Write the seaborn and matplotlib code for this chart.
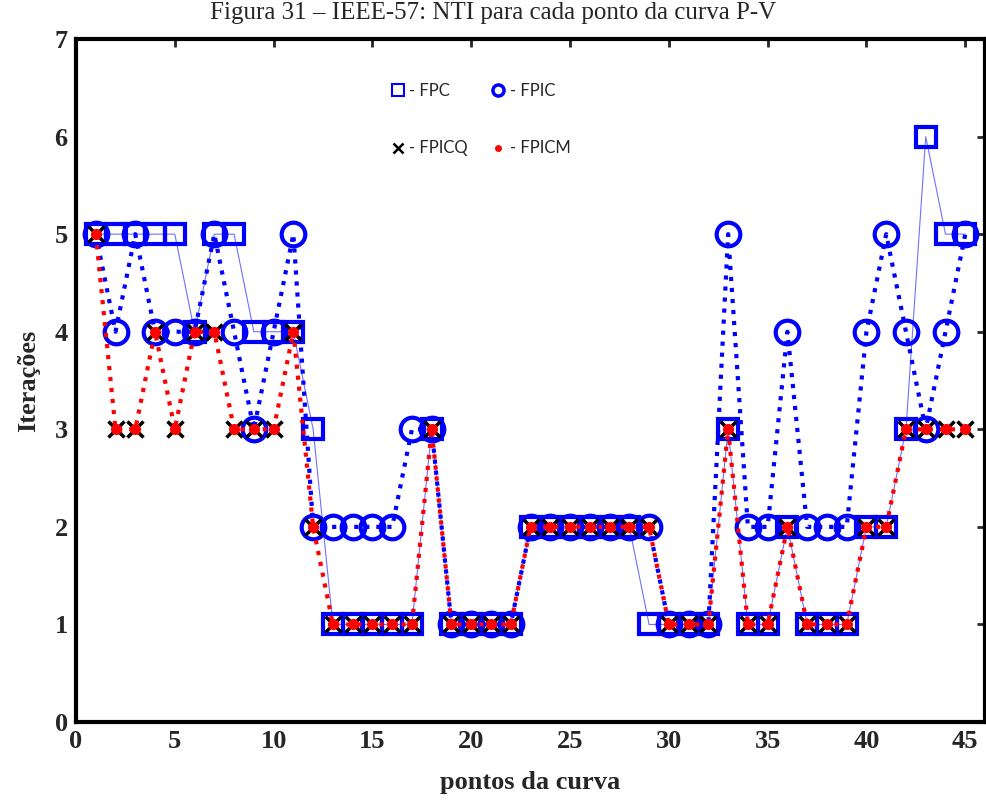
import numpy as np
import pandas as pd
import seaborn as sns
import matplotlib
matplotlib.use("Agg")
import matplotlib.pyplot as plt
from matplotlib.lines import Line2D

# pontos da curva P-V
pontos = list(range(1, 46))

fpc = [5, 5, 5, 5, 5, 4, 5, 5, 4, 4, 4, 3, 1, 1, 1, 1, 1, 3, 1, 1, 1, 1,
       2, 2, 2, 2, 2, 2, 1, 1, 1, 1, 3, 1, 1, 2, 1, 1, 1, 2, 2, 3, 6, 5, 5]
fpic = [5, 4, 5, 4, 4, 4, 5, 4, 3, 4, 5, 2, 2, 2, 2, 2, 3, 3, 1, 1, 1, 1,
        2, 2, 2, 2, 2, 2, 2, 1, 1, 1, 5, 2, 2, 4, 2, 2, 2, 4, 5, 4, 3, 4, 5]
fpicq = [5, 3, 3, 4, 3, 4, 4, 3, 3, 3, 4, 2, 1, 1, 1, 1, 1, 3, 1, 1, 1, 1,
         2, 2, 2, 2, 2, 2, 2, 1, 1, 1, 3, 1, 1, 2, 1, 1, 1, 2, 2, 3, 3, 3, 3]
fpicm = list(fpicq)

df = pd.DataFrame({"x": pontos, "FPC": fpc, "FPIC": fpic,
                   "FPICQ": fpicq, "FPICM": fpicm})

sns.set_style("white")
plt.rcParams['font.family'] = ['Liberation Serif', 'DejaVu Serif']

fig = plt.figure(figsize=(9.87, 8.01), dpi=100)
ax = fig.add_axes([0.077, 0.0986, 0.921, 0.8527])

blue = "#0000ff"
sns.lineplot(data=df, x="x", y="FPC", ax=ax, sort=False, estimator=None,
             color="#7070ff", linewidth=0.8, marker="s", markersize=15,
             markeredgewidth=3, markeredgecolor=blue, markerfacecolor="none")
sns.lineplot(data=df, x="x", y="FPIC", ax=ax, sort=False, estimator=None,
             color=blue, linewidth=3, linestyle=":", marker="o", markersize=17,
             markeredgewidth=3, markeredgecolor=blue, markerfacecolor="none")
sns.lineplot(data=df, x="x", y="FPICQ", ax=ax, sort=False, estimator=None,
             color="black", linewidth=0, marker="x", markersize=11,
             markeredgewidth=2.5, markeredgecolor="black")
sns.lineplot(data=df, x="x", y="FPICM", ax=ax, sort=False, estimator=None,
             color="red", linewidth=3, linestyle=":", marker="o", markersize=8,
             markeredgewidth=0, markerfacecolor="red")

ax.set_xlim(0, 46)
ax.set_ylim(0, 7)
ax.set_xticks([0, 5, 10, 15, 20, 25, 30, 35, 40, 45])
ax.set_yticks(range(0, 8))
ax.tick_params(direction="in", length=6, width=2, top=True, right=True,
               labelsize=19, pad=6)
for lab in ax.get_xticklabels() + ax.get_yticklabels():
    lab.set_fontweight("bold")
for sp in ax.spines.values():
    sp.set_linewidth(3)
    sp.set_color("black")

ax.set_xlabel("pontos da curva", fontsize=19, fontweight="bold", labelpad=13)
ax.set_ylabel("Iterações", fontsize=19, fontweight="bold", labelpad=10)

fig.text(0.5, 0.997, "Figura 31 – IEEE-57: NTI para cada ponto da curva P-V",
         ha="center", va="top", fontsize=18)

handles = [
    Line2D([], [], linestyle="none", marker="s", markersize=9,
           markeredgewidth=1.5, markeredgecolor=blue, markerfacecolor="none"),
    Line2D([], [], linestyle="none", marker="x", markersize=7,
           markeredgewidth=1.8, color="black"),
    Line2D([], [], linestyle="none", marker="o", markersize=8,
           markeredgewidth=2.5, markeredgecolor=blue, markerfacecolor="none"),
    Line2D([], [], linestyle="none", marker="o", markersize=5,
           markeredgewidth=0, markerfacecolor="red"),
]
labels = ["- FPC", "- FPICQ", "- FPIC", "- FPICM"]
leg = ax.legend(handles, labels, ncol=2, frameon=False,
                loc="upper left", bbox_to_anchor=(0.33, 0.958),
                prop={"family": "Lato", "size": 12}, labelspacing=2.5,
                columnspacing=1.4, handlelength=0.8, handletextpad=0.3)

fig.savefig("out.png", dpi=100)
